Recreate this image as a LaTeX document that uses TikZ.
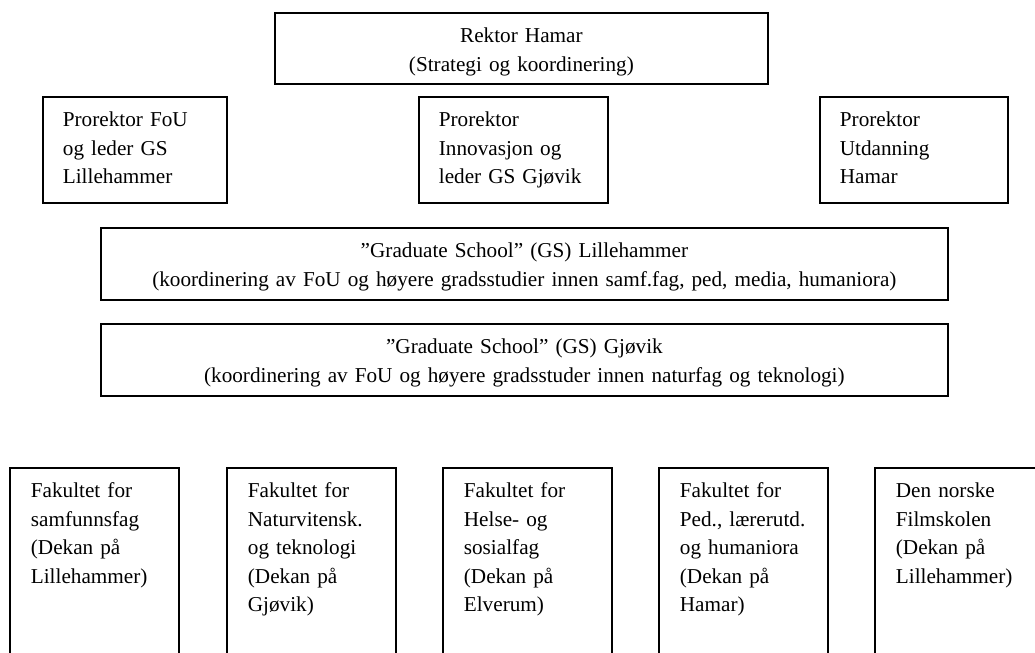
\documentclass[tikz,border=0pt]{standalone}
\usepackage{fontspec}
\setmainfont{Liberation Serif}
\usepackage{tikz}
\usetikzlibrary{positioning}
\newcommand{\orgfont}{\fontsize{10.6pt}{14.25pt}\selectfont}
\tikzset{
	orgbox/.style    = {draw=black, rectangle, anchor=north west, line width=0.9pt, inner xsep=10pt, inner ysep=0pt, text height=15pt, font=\orgfont},
	leftbox/.style   = {orgbox, align=left},
	centerbox/.style = {orgbox, align=center},
	faculty/.style   = {leftbox, inner xsep=10.5pt, text width=63.5pt, text depth=101.5pt}
}

\begin{document}
\begin{tikzpicture}[x=0.5pt, y=-0.5pt]
	\useasboundingbox (0,0) rectangle (1035,653);
	\clip (0,0) rectangle (1035,653);
	\node (rektor) [centerbox, text width=226.5pt, text depth=20.5pt] at (274,12) {Rektor Hamar\\(Strategi og koordinering)};
	\node (profou) [leftbox, text width=72pt, text depth=38pt] at (42,96) {Prorektor FoU\\og leder GS\\Lillehammer};
	\node (proinno) [leftbox, text width=74.5pt, text depth=38pt] at (418,96) {Prorektor\\Innovasjon og\\leder GS Gjøvik};
	\node (proutd) [leftbox, text width=74pt, text depth=38pt] at (819,96) {Prorektor\\Utdanning\\Hamar};
	\node (gslille) [centerbox, text width=403.5pt, text depth=21pt] at (100,227) {”Graduate School” (GS) Lillehammer\\(koordinering av FoU og høyere gradsstudier innen samf.fag, ped, media, humaniora)};
	\node (gsgjovik) [centerbox, text width=403.5pt, text depth=21pt] at (100,323) {”Graduate School” (GS) Gjøvik\\(koordinering av FoU og høyere gradsstuder innen naturfag og teknologi)};
	\node (faksamf) [faculty] at (9,467) {Fakultet for\\samfunnsfag\\(Dekan på\\Lillehammer)};
	\node (fakntek) [faculty] at (226,467) {Fakultet for\\Naturvitensk.\\og teknologi\\(Dekan på\\Gjøvik)};
	\node (fakhelse) [faculty] at (442,467) {Fakultet for\\Helse- og\\sosialfag\\(Dekan på\\Elverum)};
	\node (fakped) [faculty] at (658,467) {Fakultet for\\Ped., lærerutd.\\og humaniora\\(Dekan på\\Hamar)};
	\node (filmsk) [faculty] at (874,467) {Den norske\\Filmskolen\\(Dekan på\\Lillehammer)};
\end{tikzpicture}
\end{document}
